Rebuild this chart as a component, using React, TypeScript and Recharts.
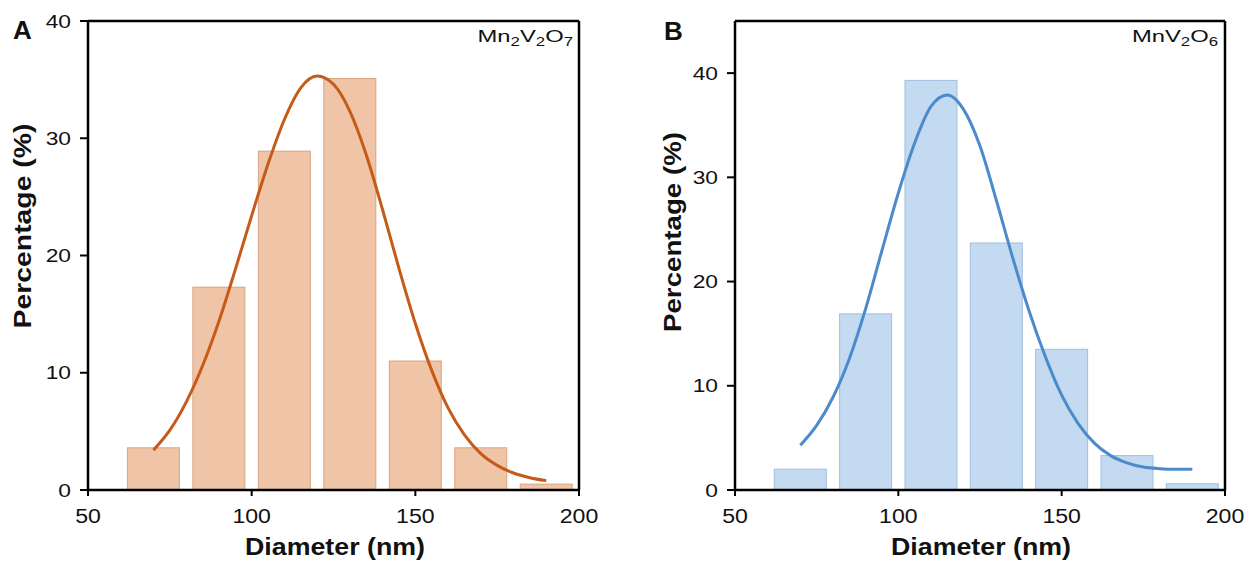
import { Bar, ComposedChart, Line, ReferenceLine, XAxis, YAxis } from 'recharts';

// histogram bins (nm) and the share of particles in each bin (%)
const binCenters = [70, 90, 110, 130, 150, 170, 190];
const percentA = [3.6, 17.3, 28.9, 35.1, 11.0, 3.6, 0.5];
const percentB = [2.0, 16.9, 39.3, 23.7, 13.5, 3.3, 0.6];

// fitted distribution curves
const fitDiameters = [
  70, 75, 80, 85, 90, 95, 100, 105, 110, 115, 120, 125, 130, 135, 140, 145, 150, 155, 160, 165,
  170, 175, 180, 185, 190,
];
const fitA = [
  3.4, 5.1, 7.5, 10.6, 14.4, 18.8, 23.4, 27.8, 31.6, 34.3, 35.3, 34.6, 32.3, 28.6, 23.9, 18.9,
  14.2, 10.2, 7.0, 4.7, 3.1, 2.1, 1.45, 1.05, 0.8,
];
const fitB = [
  4.3, 6.2, 8.9, 12.6, 17.4, 23.0, 28.5, 33.3, 36.8, 37.9, 36.5, 33.0, 27.8, 22.3, 17.2, 12.8,
  9.1, 6.4, 4.5, 3.3, 2.6, 2.2, 2.05, 2.0, 2.0,
];

const xTicks = [50, 100, 150, 200];
const yTicksA = [0, 10, 20, 30, 40];
const yTicksB = [0, 10, 20, 30, 40];

const FONT = '"Liberation Sans", Arial, sans-serif';
const BAR_PX = 52;

function buildRows(percent: number[], fit: number[]) {
  return fitDiameters.map((d, i) => {
    const k = binCenters.indexOf(d);
    return { d, pct: k >= 0 ? percent[k] : null, fit: fit[i] };
  });
}

const rowsA = buildRows(percentA, fitA);
const rowsB = buildRows(percentB, fitB);

const makeBinShape = (fill: string, stroke: string) => (props: any) => {
  const { x, y, width, height } = props;
  if (height == null || !isFinite(height) || height <= 0) return <g />;
  const cx = x + width / 2;
  return (
    <rect
      x={cx - BAR_PX / 2}
      y={y}
      width={BAR_PX}
      height={height}
      fill={fill}
      stroke={stroke}
      strokeWidth={1}
    />
  );
};

const XTick = ({ x, y, payload }: any) => (
  <g transform={`translate(${x},${y})`}>
    <text transform="scale(1.1,1)" textAnchor="middle" y={25} fontSize={21} fill="#111" fontFamily={FONT}>
      {payload.value}
    </text>
  </g>
);

const YTick = ({ x, y, payload }: any) => (
  <g transform={`translate(${x - 7},${y})`}>
    <text transform="scale(1.2,1)" textAnchor="end" y={6.7} fontSize={19} fill="#111" fontFamily={FONT}>
      {payload.value}
    </text>
  </g>
);

interface PanelProps {
  rows: ReturnType<typeof buildRows>;
  yMax: number;
  yTicks: number[];
  barFill: string;
  barStroke: string;
  lineColor: string;
  width: number;
  yAxisWidth: number;
  rightMargin: number;
}

function Panel({ rows, yMax, yTicks, barFill, barStroke, lineColor, width, yAxisWidth, rightMargin }: PanelProps) {
  return (
    <ComposedChart
      width={width}
      height={564}
      data={rows}
      margin={{ top: 21, right: rightMargin, bottom: 0, left: 0 }}
    >
      <XAxis
        dataKey="d"
        type="number"
        domain={[50, 200]}
        ticks={xTicks}
        height={74}
        tickSize={6}
        tickMargin={2}
        axisLine={{ stroke: '#000', strokeWidth: 2.5 }}
        tickLine={{ stroke: '#000', strokeWidth: 2 }}
        tick={<XTick />}
      />
      <YAxis
        type="number"
        domain={[0, yMax]}
        ticks={yTicks}
        width={yAxisWidth}
        tickSize={8}
        tickMargin={2}
        axisLine={{ stroke: '#000', strokeWidth: 2.5 }}
        tickLine={{ stroke: '#000', strokeWidth: 2 }}
        tick={<YTick />}
      />
      <ReferenceLine y={yMax} stroke="#000" strokeWidth={2.5} />
      <ReferenceLine x={200} stroke="#000" strokeWidth={2.5} />
      <Bar dataKey="pct" isAnimationActive={false} shape={makeBinShape(barFill, barStroke)} />
      <Line
        dataKey="fit"
        type="monotone"
        stroke={lineColor}
        strokeWidth={3}
        dot={false}
        isAnimationActive={false}
      />
    </ComposedChart>
  );
}

const Formula = ({ x, y, parts }: { x: number; y: number; parts: [string, string][] }) => (
  <g transform={`translate(${x},${y}) scale(1.4,1)`}>
    <text textAnchor="end" fontSize={17} fill="#111" fontFamily={FONT}>
      {parts.map(([base, sub], i) => [
        <tspan key={`b${i}`} dy={i > 0 && parts[i - 1][1] ? -4 : 0}>
          {base}
        </tspan>,
        sub ? (
          <tspan key={`s${i}`} fontSize={12} dy={4}>
            {sub}
          </tspan>
        ) : null,
      ])}
    </text>
  </g>
);

export default function App() {
  return (
    <div style={{ position: 'absolute', left: 0, top: 0, width: 1251, height: 564, background: '#fff' }}>
      <div style={{ position: 'absolute', left: 0, top: 0 }}>
        <Panel
          rows={rowsA}
          yMax={40}
          yTicks={yTicksA}
          barFill="#EFC4A7"
          barStroke="#D9A384"
          lineColor="#C65A17"
          width={620}
          yAxisWidth={88}
          rightMargin={41}
        />
      </div>
      <div style={{ position: 'absolute', left: 640, top: 0 }}>
        <Panel
          rows={rowsB}
          yMax={45}
          yTicks={yTicksB}
          barFill="#C3DAF0"
          barStroke="#9FBFDF"
          lineColor="#4C8BCB"
          width={611}
          yAxisWidth={95}
          rightMargin={26}
        />
      </div>
      <svg
        width={1251}
        height={564}
        style={{ position: 'absolute', left: 0, top: 0, pointerEvents: 'none' }}
        fontFamily={FONT}
      >
        <text x={13} y={39} fontSize={26} fontWeight="bold" fill="#111">A</text>
        <text x={664} y={40} fontSize={26} fontWeight="bold" fill="#111">B</text>
        <Formula x={573} y={42} parts={[['Mn', '2'], ['V', '2'], ['O', '7']]} />
        <Formula x={1218} y={42} parts={[['Mn', ''], ['V', '2'], ['O', '6']]} />
        <text
          transform="translate(30.5,226) rotate(-90)"
          textAnchor="middle"
          fontSize={23}
          fontWeight="bold"
          fill="#111"
          textLength={205}
          lengthAdjust="spacingAndGlyphs"
        >
          Percentage (%)
        </text>
        <text
          transform="translate(680.5,232) rotate(-90)"
          textAnchor="middle"
          fontSize={23}
          fontWeight="bold"
          fill="#111"
          textLength={200}
          lengthAdjust="spacingAndGlyphs"
        >
          Percentage (%)
        </text>
        <text
          x={335}
          y={555}
          textAnchor="middle"
          fontSize={24}
          fontWeight="bold"
          fill="#111"
          textLength={180}
          lengthAdjust="spacingAndGlyphs"
        >
          Diameter (nm)
        </text>
        <text
          x={981}
          y={555}
          textAnchor="middle"
          fontSize={24}
          fontWeight="bold"
          fill="#111"
          textLength={180}
          lengthAdjust="spacingAndGlyphs"
        >
          Diameter (nm)
        </text>
      </svg>
    </div>
  );
}
